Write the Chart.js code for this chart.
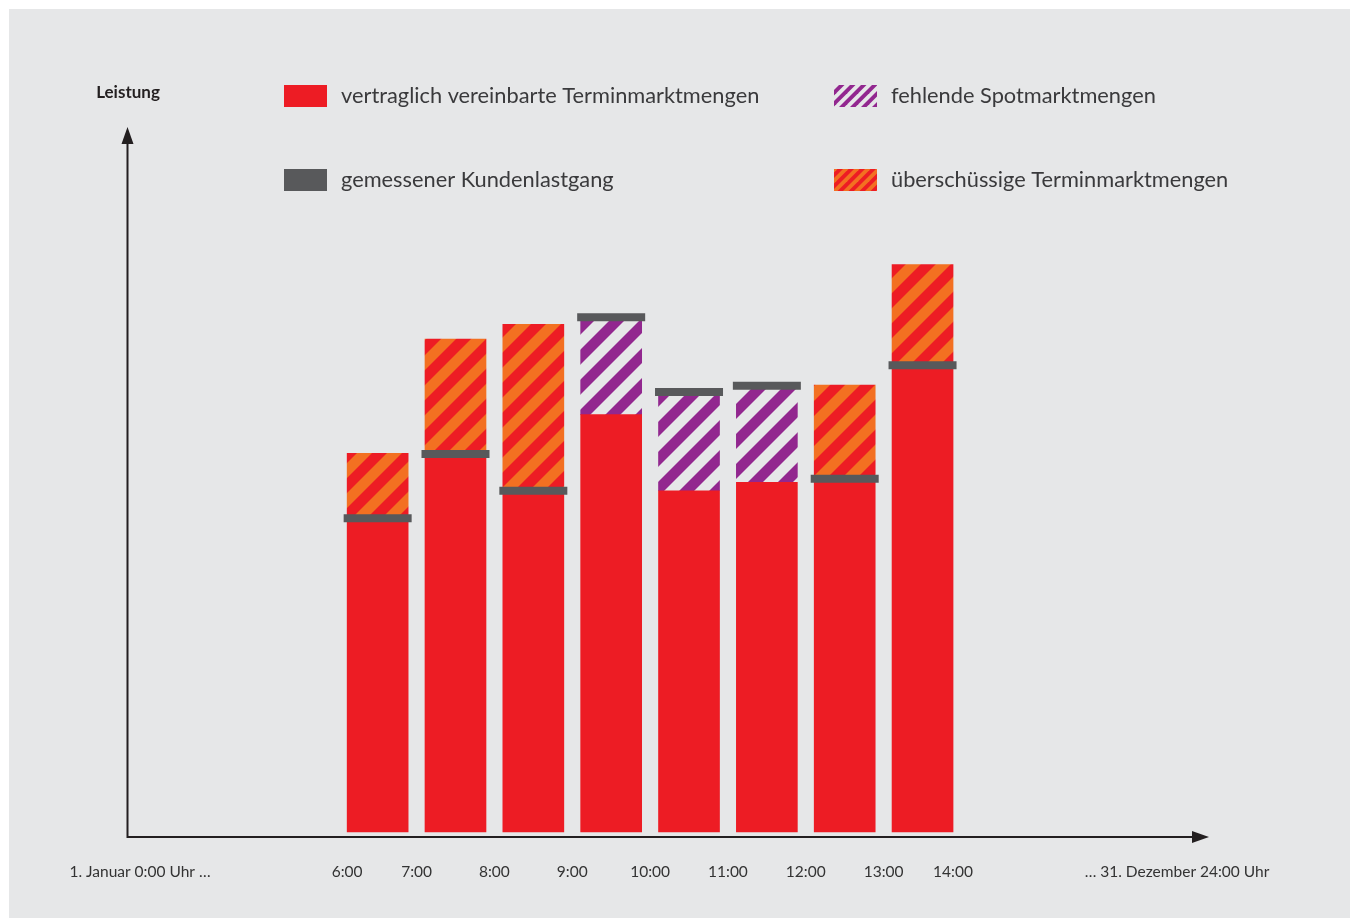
<!DOCTYPE html>
<html>
<head>
<meta charset="utf-8">
<script src="https://cdn.jsdelivr.net/npm/chart.js@4"></script>
<style>
  html, body { margin: 0; padding: 0; background: #ffffff; }
  #wrap { width: 1350px; height: 919px; position: relative; }
</style>
</head>
<body>
<div id="wrap"><canvas id="c" width="1350" height="919"></canvas></div>
<script>
// ---------------- data ----------------
const slotStartHours = [6, 7, 8, 9, 10, 11, 12, 13];
const contracted = [53.7, 69.9, 72.0, 59.2, 48.4, 49.6, 63.4, 80.5];
const measured   = [44.5, 53.6, 48.4, 73.0, 62.4, 63.3, 50.1, 66.2];
const tickHours  = [6, 7, 8, 9, 10, 11, 12, 13, 14];
const tickLabels = ['6:00', '7:00', '8:00', '9:00', '10:00', '11:00', '12:00', '13:00', '14:00'];
const periodStartLabel = '1. Januar 0:00 Uhr …';
const periodEndLabel = '… 31. Dezember 24:00 Uhr';
const yAxisTitle = 'Leistung';
const seriesNames = [
  'vertraglich vereinbarte Terminmarktmengen',
  'fehlende Spotmarktmengen',
  'gemessener Kundenlastgang',
  'überschüssige Terminmarktmengen'
];

// ---------------- styles ----------------
const RED = '#ed1c24', ORANGE = '#f37021', PURPLE = '#92278f', GRAY = '#58595b';
const PANEL = '#e6e7e8', INK = '#231f20', TEXT = '#333333';
const FONT = 'Lato, "Open Sans", sans-serif';

function stripes(c1, c2, size) {
  const cv = document.createElement('canvas');
  cv.width = size; cv.height = size;
  const g = cv.getContext('2d');
  g.fillStyle = c1; g.fillRect(0, 0, size, size);
  g.fillStyle = c2;
  const w = size / 2; // band width measured along x
  for (let k = -1; k <= 1; k++) {
    const o = k * size;
    // "/" band: between lines x + y = size + o and x + y = size + o + w
    g.beginPath();
    g.moveTo(o - size, 2 * size);
    g.lineTo(o + 2 * size, -size);
    g.lineTo(o + 2 * size + w, -size);
    g.lineTo(o - size + w, 2 * size);
    g.closePath();
    g.fill();
  }
  return g.createPattern(cv, 'repeat');
}
const surplusFill = stripes(RED, ORANGE, 30);
const missingFill = stripes(PANEL, PURPLE, 30);
const surplusLegend = stripes(RED, ORANGE, 11);
const missingLegend = stripes(PANEL, PURPLE, 11);

// ---------------- datasets built from arrays ----------------
const mid = h => h + 0.5;
const baseData = slotStartHours.map((h, i) => ({ x: mid(h), y: [0, Math.min(contracted[i], measured[i])] }));
const surplusData = slotStartHours.map((h, i) => ({ h, i }))
  .filter(o => contracted[o.i] > measured[o.i])
  .map(o => ({ x: mid(o.h), y: [measured[o.i], contracted[o.i]] }));
const missingData = slotStartHours.map((h, i) => ({ h, i }))
  .filter(o => measured[o.i] > contracted[o.i])
  .map(o => ({ x: mid(o.h), y: [contracted[o.i], measured[o.i]] }));
const measuredData = slotStartHours.map((h, i) => ({ x: mid(h), y: measured[i] }));

// ---------------- plugins ----------------
const panelPlugin = {
  id: 'panel',
  beforeDraw(chart) {
    const ctx = chart.ctx;
    ctx.save();
    ctx.fillStyle = '#ffffff';
    ctx.fillRect(0, 0, chart.width, chart.height);
    ctx.fillStyle = PANEL;
    ctx.fillRect(9, 9, chart.width - 9, chart.height - 10);
    ctx.restore();
  }
};

const axesPlugin = {
  id: 'arrows',
  afterDatasetsDraw(chart) {
    const { ctx, chartArea: a } = chart;
    const y0 = a.bottom, x0 = a.left + 0.5;
    ctx.save();
    ctx.strokeStyle = INK; ctx.fillStyle = INK; ctx.lineWidth = 2;
    ctx.beginPath();
    ctx.moveTo(x0, y0); ctx.lineTo(x0, a.top + 14);
    ctx.moveTo(x0 - 1, y0); ctx.lineTo(a.right - 14, y0);
    ctx.stroke();
    ctx.beginPath();
    ctx.moveTo(x0, a.top); ctx.lineTo(x0 - 6, a.top + 17); ctx.lineTo(x0 + 6, a.top + 17); ctx.closePath();
    ctx.fill();
    ctx.beginPath();
    ctx.moveTo(a.right, y0); ctx.lineTo(a.right - 17, y0 - 6); ctx.lineTo(a.right - 17, y0 + 6); ctx.closePath();
    ctx.fill();
    ctx.restore();
  }
};

const textPlugin = {
  id: 'texts',
  afterDraw(chart) {
    const { ctx, chartArea: a } = chart;
    const xs = chart.scales.x;
    const bars = chart.getDatasetMeta(0).data;
    const lo = bars[0].x - bars[0].width / 2;
    const hi = bars[bars.length - 1].x + bars[bars.length - 1].width / 2;
    ctx.save();
    // y title
    ctx.fillStyle = INK;
    ctx.font = 'bold 17px ' + FONT;
    ctx.textAlign = 'center'; ctx.textBaseline = 'middle';
    ctx.fillText(yAxisTitle, a.left + 1, 93);
    // x tick labels
    ctx.fillStyle = TEXT;
    ctx.font = '15.5px ' + FONT;
    tickHours.forEach((h, i) => {
      const px = Math.min(hi, Math.max(lo, xs.getPixelForValue(h)));
      ctx.fillText(tickLabels[i], px, a.bottom + 35);
    });
    ctx.fillText(periodStartLabel, a.left + 13, a.bottom + 35);
    ctx.fillText(periodEndLabel, a.right - 32, a.bottom + 35);
    // legend
    const swatches = [RED, missingLegend, GRAY, surplusLegend];
    const cols = [284, 834], rows = [85, 169];
    ctx.font = '21.8px ' + FONT;
    ctx.textAlign = 'left';
    seriesNames.forEach((name, i) => {
      const cx = cols[i % 2], cy = rows[Math.floor(i / 2)];
      ctx.fillStyle = swatches[i];
      ctx.fillRect(cx, cy, 43, 22);
      ctx.fillStyle = '#3a3a3c';
      ctx.fillText(name, cx + 57, cy + 11);
    });
    ctx.restore();
  }
};

// ---------------- chart ----------------
new Chart(document.getElementById('c'), {
  type: 'bar',
  data: {
    datasets: [
      { label: seriesNames[0], data: baseData, backgroundColor: RED, barThickness: 61, grouped: false, order: 2 },
      { label: seriesNames[3], data: surplusData, backgroundColor: surplusFill, barThickness: 61, grouped: false, order: 2 },
      { label: seriesNames[1], data: missingData, backgroundColor: missingFill, barThickness: 61, grouped: false, order: 2 },
      { label: seriesNames[2], type: 'line', data: measuredData, showLine: false,
        pointStyle: 'line', pointRadius: 34, pointHoverRadius: 34,
        pointBorderColor: GRAY, pointBorderWidth: 8, pointHoverBorderWidth: 8, order: 0 }
    ]
  },
  options: {
    responsive: false,
    animation: false,
    events: [],
    layout: { padding: { left: 127, right: 141, top: 127, bottom: 82 } },
    plugins: { legend: { display: false }, tooltip: { enabled: false } },
    scales: {
      x: { type: 'linear', min: 3.28, max: 17.18, offset: false, display: false },
      y: { type: 'linear', min: -0.71, max: 100, display: false, stacked: false }
    }
  },
  plugins: [panelPlugin, axesPlugin, textPlugin]
});
</script>
</body>
</html>
